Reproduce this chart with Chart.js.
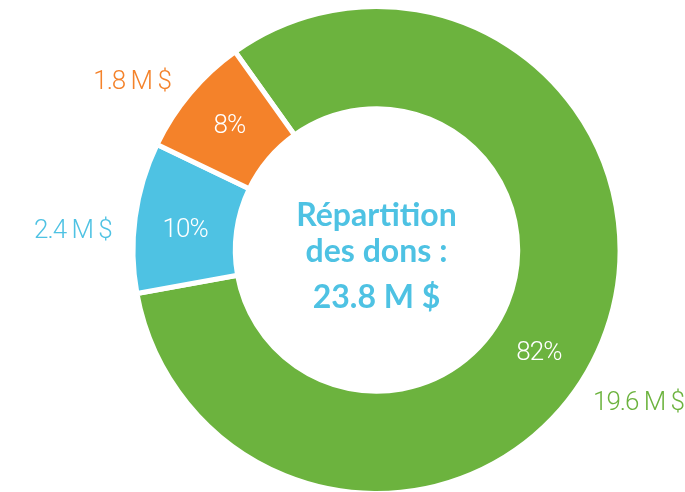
<!DOCTYPE html>
<html>
<head>
<meta charset="utf-8">
<script src="https://cdn.jsdelivr.net/npm/chart.js@4.4.0/dist/chart.umd.min.js"></script>
<style>
  html, body { margin: 0; padding: 0; background: #fff; overflow: hidden; }
  #wrap { width: 685px; height: 496px; }
</style>
</head>
<body>
<div id="wrap"><canvas id="donut"></canvas></div>
<script>
// donnees du graphique
var pourcentages = [82, 10, 8];
var montants = ['19.6 M $', '2.4 M $', '1.8 M $'];
var titre = ['Répartition', 'des dons :', '23.8 M $'];

var couleurs = ['#6cb33e', '#4ec2e3', '#f4822a'];
var bleuTitre = '#4ec2e3';

// dessine les pourcentages, les montants et le titre au centre
var etiquettesPlugin = {
  id: 'etiquettes',
  afterDatasetsDraw: function(chart, args, opts) {
    var ctx = chart.ctx;
    var arcs = chart.getDatasetMeta(0).data;
    ctx.save();
    ctx.textBaseline = 'middle';
    ctx.letterSpacing = '-1px';
    for (var i = 0; i < arcs.length; i++) {
      var a = arcs[i].getProps(['x', 'y', 'startAngle', 'endAngle', 'innerRadius', 'outerRadius'], true);
      var span = a.endAngle - a.startAngle;

      // pourcentage dans l'anneau
      var ang = a.startAngle + span * opts.posPct[i];
      var r = (a.innerRadius + a.outerRadius) / 2;
      ctx.font = '300 26px Roboto';
      ctx.fillStyle = '#fff';
      ctx.textAlign = 'center';
      ctx.fillText(pourcentages[i] + '%', a.x + Math.cos(ang) * r, a.y + Math.sin(ang) * r);

      // montant a l'exterieur
      ang = a.startAngle + span * opts.posMontant[i];
      r = a.outerRadius + opts.distance;
      ctx.fillStyle = couleurs[i];
      ctx.textAlign = Math.cos(ang) < 0 ? 'right' : 'left';
      ctx.fillText(montants[i], a.x + Math.cos(ang) * r, a.y + Math.sin(ang) * r);
    }

    // titre
    var c = arcs[0];
    ctx.letterSpacing = '0px';
    ctx.fillStyle = bleuTitre;
    ctx.textAlign = 'center';
    ctx.textBaseline = 'alphabetic';
    ctx.font = 'bold 32px Lato';
    ctx.fillText(titre[0], c.x, c.y - 24);
    ctx.fillText(titre[1], c.x, c.y + 12);
    ctx.fillText(titre[2], c.x, c.y + 58);
    ctx.restore();
  }
};

var ctxD = document.getElementById('donut').getContext('2d');
var graphe = new Chart(ctxD, {
  type: 'doughnut',
  data: {
    labels: montants,
    datasets: [{
      data: pourcentages,
      backgroundColor: couleurs,
      borderColor: '#fff',
      borderWidth: 5,
      hoverOffset: 0,
      offset: 0
    }]
  },
  options: {
    responsive: true,
    maintainAspectRatio: false,
    animation: false,
    rotation: -35.5,
    cutout: '58%',
    layout: { padding: { left: 68, right: 0, top: 4, bottom: 0 } },
    plugins: {
      legend: { display: false },
      tooltip: { enabled: false },
      etiquettes: { posPct: [0.535, 0.45, 0.5], posMontant: [0.545, 0.40, 0.47], distance: 22 }
    }
  },
  plugins: [etiquettesPlugin]
});
</script>
</body>
</html>
